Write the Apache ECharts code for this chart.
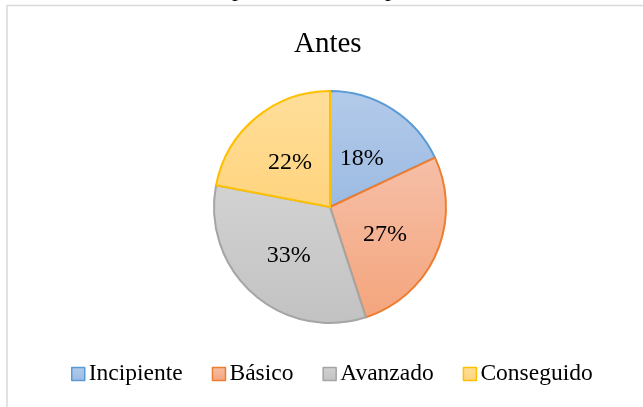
<!DOCTYPE html>
<html>
<head>
<meta charset="utf-8">
<script src="https://cdn.jsdelivr.net/npm/echarts@6/dist/echarts.min.js"></script>
<style>
  html, body { margin: 0; padding: 0; background: #fff; }
  #main { width: 643px; height: 407px; }
</style>
</head>
<body>
<div id="main"></div>
<script>
// niveles y porcentajes (Antes)
var categories = ['Incipiente', 'Básico', 'Avanzado', 'Conseguido']
var values = [18, 27, 33, 22]
var borderColors = ['#5b9bd5', '#ed7d31', '#a5a5a5', '#ffc000']
var fillTop = ['#b3cbea', '#f6bfa8', '#d2d2d2', '#ffde9a']
var fillBottom = ['#9cbae2', '#f4a57c', '#c2c2c2', '#ffd47e']

var serif = '"Liberation Serif", "Times New Roman", serif'

var chartDom = document.getElementById('main')
var myChart = echarts.init(chartDom)
var option

var pieData = categories.map(function (name, i) {
  return {
    name: name,
    value: values[i],
    itemStyle: {
      color: new echarts.graphic.LinearGradient(0, 0, 0, 1, [
        { offset: 0, color: fillTop[i] },
        { offset: 1, color: fillBottom[i] }
      ]),
      borderColor: borderColors[i],
      borderWidth: 2
    }
  }
})

option = {
  animation: false,
  title: {
    text: 'Antes',
    left: 294,
    top: 30,
    padding: 0,
    textStyle: {
      fontFamily: serif,
      fontSize: 29,
      fontWeight: 'normal',
      color: '#000'
    }
  },
  legend: {
    data: categories,
    left: 71,
    top: 362,
    padding: 0,
    itemWidth: 13,
    itemHeight: 13,
    itemGap: 29,
    icon: 'rect',
    itemStyle: { borderWidth: 1.5 },
    textStyle: {
      fontFamily: serif,
      fontSize: 23.5,
      color: '#000',
      padding: [0, 0, 0, -1]
    }
  },
  graphic: [
    {
      type: 'rect',
      shape: { x: 7, y: 5.5, width: 700, height: 450 },
      style: { fill: 'none', stroke: '#d9d9d9', lineWidth: 1.5 },
      silent: true
    },
    {
      type: 'text',
      x: 232,
      y: -10,
      style: { text: 'p', font: '24px ' + serif, fill: '#000', verticalAlign: 'middle' },
      silent: true
    },
    {
      type: 'text',
      x: 385,
      y: -10,
      style: { text: 'p', font: '24px ' + serif, fill: '#000', verticalAlign: 'middle' },
      silent: true
    }
  ],
  series: [
    {
      type: 'pie',
      center: [330, 207],
      radius: 116,
      startAngle: 90,
      clockwise: true,
      data: pieData,
      label: {
        show: true,
        position: 'inside',
        fontFamily: serif,
        fontSize: 24,
        color: '#000',
        offset: [-1, 3],
        formatter: function (p) {
          return Math.round(p.percent) + '%'
        }
      },
      labelLine: { show: false },
      emphasis: { disabled: true }
    }
  ]
}

option && myChart.setOption(option)
</script>
</body>
</html>
